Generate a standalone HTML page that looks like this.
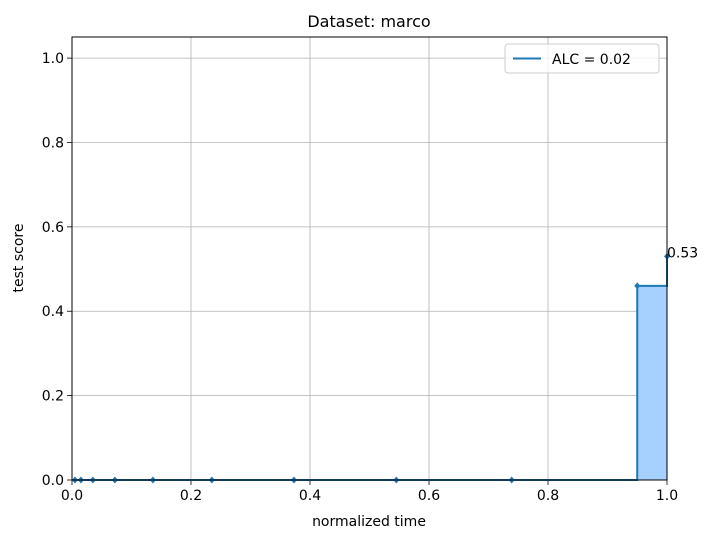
<!DOCTYPE html>
<html><head><meta charset="utf-8"><style>
body{margin:0;background:#fff;font-family:"Liberation Sans","DejaVu Sans",sans-serif}
svg text{font-family:"DejaVu Sans","Liberation Sans",sans-serif}
</style></head><body>
<svg id="c" width="716" height="540"></svg>
<script>
const xVals=[0.005,0.015,0.035,0.072,0.136,0.235,0.373,0.545,0.739,0.95,1.0];
const yVals=[0,0,0,0,0,0,0,0,0,0.46,0.53];
const xTicks=[0,0.2,0.4,0.6,0.8,1.0];
const yTicks=[0,0.2,0.4,0.6,0.8,1.0];
const tickLabelsX=["0.0","0.2","0.4","0.6","0.8","1.0"];
const tickLabelsY=["0.0","0.2","0.4","0.6","0.8","1.0"];
const L=72,R=667,T=37,B=480;
const sx=v=>L+v*(R-L), sy=v=>B-v/1.05*(B-T);
const svg=document.getElementById('c');const NS='http://www.w3.org/2000/svg';
function mk(t,a,p){const e=document.createElementNS(NS,t);for(const k in a)e.setAttribute(k,a[k]);(p||svg).appendChild(e);return e;}
// grid
xTicks.forEach((v,i)=>{const g=mk('line',{x1:sx(v),x2:sx(v),y1:T,y2:B,stroke:'#b0b0b0','stroke-width':0.8});
const t=mk('line',{x1:sx(v),x2:sx(v),y1:B,y2:B+5,stroke:'#000','stroke-width':0.8});
const tx=mk('text',{x:sx(v),y:B+20,'text-anchor':'middle','font-size':14});tx.textContent=tickLabelsX[i];});
yTicks.forEach((v,i)=>{const g=mk('line',{x1:L,x2:R,y1:sy(v),y2:sy(v),stroke:'#b0b0b0','stroke-width':0.8});
mk('line',{x1:L-5,x2:L,y1:sy(v),y2:sy(v),stroke:'#000','stroke-width':0.8});
const tx=mk('text',{x:L-8,y:sy(v)+5,'text-anchor':'end','font-size':14});tx.textContent=tickLabelsY[i];});
// step path
let d='M'+sx(xVals[0])+','+sy(yVals[0]);
for(let i=1;i<xVals.length;i++){d+=' L'+sx(xVals[i])+','+sy(yVals[i-1])+' L'+sx(xVals[i])+','+sy(yVals[i]);}
const fd=d+' L'+sx(xVals[xVals.length-1])+','+sy(0)+' L'+sx(xVals[0])+','+sy(0)+' Z';
const f=mk('path',{d:fd,fill:'#a6d1ff',stroke:'none'});
const ln=mk('path',{d:d,fill:'none',stroke:'#1f77b4','stroke-width':2});
xVals.forEach((v,i)=>{const x=sx(v),y=sy(yVals[i]);const p=mk('path',{d:`M${x},${y-3.5}L${x+3},${y}L${x},${y+3.5}L${x-3},${y}Z`,fill:'#1f77b4'});});
const last=mk('text',{x:sx(xVals[xVals.length-1]),y:sy(yVals[yVals.length-1])+1,'font-size':14});last.textContent=yVals[yVals.length-1].toFixed(2);
// frame
const fr=mk('rect',{x:L,y:T,width:R-L,height:B-T,fill:'none',stroke:'#000','stroke-width':1});
// legend
const lg=mk('g',{});
mk('rect',{x:505,y:44,width:154,height:29,rx:3,fill:'#fff','fill-opacity':0.8,stroke:'#ccc'},lg);
mk('line',{x1:513,x2:541,y1:58.5,y2:58.5,stroke:'#1f77b4','stroke-width':2},lg);
const lt=mk('text',{x:552,y:64,'font-size':14},lg);lt.textContent='ALC = 0.02';
const ti=mk('text',{x:369,y:27,'text-anchor':'middle','font-size':16});ti.textContent='Dataset: marco';
const xl=mk('text',{x:369,y:526,'text-anchor':'middle','font-size':14});xl.textContent='normalized time';
const yl=mk('text',{x:23,y:258,'text-anchor':'middle','font-size':14,transform:'rotate(-90 23 258)'});yl.textContent='test score';
</script>
</body></html>
